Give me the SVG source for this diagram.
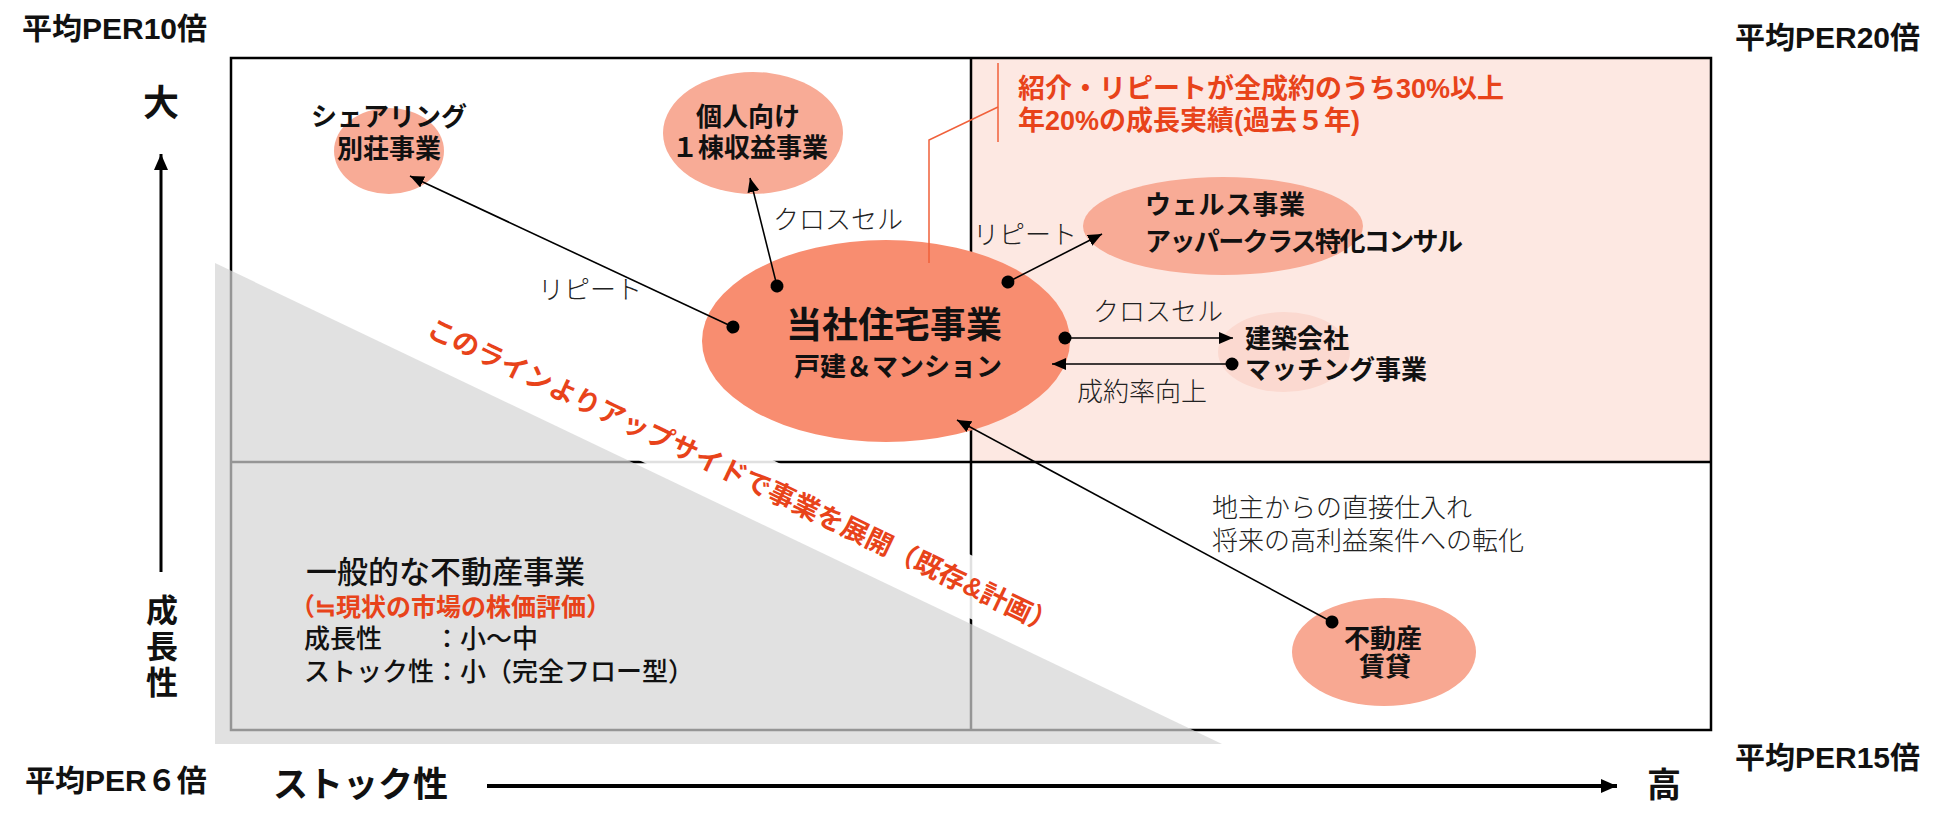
<svg xmlns="http://www.w3.org/2000/svg" width="1950" height="830" viewBox="0 0 1950 830">
<defs>
<style>
text{font-family:"Liberation Sans","Noto Sans CJK JP",sans-serif;fill:#111}
.b{font-weight:700}
.m{font-weight:500}
.red{fill:#E8431A}
.per{font-size:30px;font-weight:700}
.node{font-size:26px;font-weight:700}
.lab{font-size:26px;font-weight:300;fill:#222}
.conn{stroke:#000;stroke-width:1.6;fill:none;marker-start:url(#dot);marker-end:url(#ah)}
</style>
<marker id="ah" markerUnits="userSpaceOnUse" markerWidth="14" markerHeight="12" refX="14" refY="6" orient="auto"><path d="M0,0 L14,6 L0,12 z" fill="#000"/></marker>
<marker id="dot" markerUnits="userSpaceOnUse" markerWidth="14" markerHeight="14" refX="7" refY="7" orient="auto"><circle cx="7" cy="7" r="6.5" fill="#000"/></marker>
<marker id="axh" markerUnits="userSpaceOnUse" markerWidth="16" markerHeight="16" refX="16" refY="8" orient="auto"><path d="M0,1 L16,8 L0,15 z" fill="#000"/></marker>
</defs>
<rect width="1950" height="830" fill="#fff"/>

<g id="quadrants">
<rect x="971" y="58" width="740" height="404" fill="#FDE8E2"/>
<rect x="231" y="58" width="1480" height="672" fill="none" stroke="#000" stroke-width="2.5"/>
<line x1="971" y1="58" x2="971" y2="730" stroke="#000" stroke-width="2.5"/>
<line x1="231" y1="462" x2="1711" y2="462" stroke="#000" stroke-width="2.5"/>
</g>

<g id="general-zone">
<polygon points="215,263 215,744 1222,744" fill="#D4D4D4" fill-opacity="0.7"/>
<polygon points="417,354 1082,672 1107,620 442,302" fill="#fff" fill-opacity="0.88"/>
<text transform="translate(742,477) rotate(25.6)" x="0" y="9" text-anchor="middle" class="b red" font-size="27">このラインよりアップサイドで事業を展開（既存&amp;計画）</text>
</g>

<g id="axes">
<line x1="161" y1="572" x2="161" y2="154" stroke="#000" stroke-width="3" marker-end="url(#axh)"/>
<line x1="487" y1="786" x2="1617" y2="786" stroke="#000" stroke-width="4" marker-end="url(#axh)"/>
<text x="161" y="116" text-anchor="middle" class="b" font-size="36">大</text>
<text x="162" y="622" text-anchor="middle" class="b" font-size="32">成</text>
<text x="162" y="658" text-anchor="middle" class="b" font-size="32">長</text>
<text x="162" y="694" text-anchor="middle" class="b" font-size="32">性</text>
<text x="273" y="797" class="b" font-size="35">ストック性</text>
<text x="1664" y="797" text-anchor="middle" class="b" font-size="34">高</text>
<text x="22" y="39" class="per">平均PER10倍</text>
<text x="1735" y="48" class="per">平均PER20倍</text>
<text x="25" y="791" class="per">平均PER６倍</text>
<text x="1735" y="768" class="per">平均PER15倍</text>
</g>

<g id="general-text">
<text x="306" y="583" class="m" font-size="31">一般的な不動産事業</text>
<text x="290" y="616" class="b red" font-size="25">（≒現状の市場の株価評価）</text>
<text x="304" y="648" class="m" font-size="26">成長性　　：小～中</text>
<text x="304" y="681" class="m" font-size="26">ストック性：小（完全フロー型）</text>
</g>

<g id="node-sharing">
<ellipse cx="389" cy="151" rx="55" ry="43" fill="#F8AB96"/>
<text x="389" y="126" text-anchor="middle" class="node">シェアリング</text>
<text x="389" y="158" text-anchor="middle" class="node">別荘事業</text>
</g>

<g id="node-individual">
<ellipse cx="753" cy="133" rx="90" ry="61" fill="#F8AB96"/>
<text x="748" y="126" text-anchor="middle" class="node">個人向け</text>
<text x="750" y="157" text-anchor="middle" class="node">１棟収益事業</text>
</g>

<g id="node-wealth">
<ellipse cx="1223" cy="226" rx="140" ry="49" fill="#F8AB96"/>
<text x="1145" y="214" class="node" textLength="160">ウェルス事業</text>
<text x="1145" y="251" class="node" font-size="25" textLength="318">アッパークラス特化コンサル</text>
</g>

<g id="node-matching">
<ellipse cx="1284" cy="352" rx="66" ry="40" fill="#FBD9D0"/>
<text x="1245" y="348" class="node" font-size="27">建築会社</text>
<text x="1245" y="379" class="node" font-size="27">マッチング事業</text>
</g>

<g id="node-rental">
<ellipse cx="1384" cy="652" rx="92" ry="54" fill="#F8A892"/>
<text x="1383" y="648" text-anchor="middle" class="node" font-size="27">不動産</text>
<text x="1385" y="676" text-anchor="middle" class="node" font-size="25">賃貸</text>
</g>

<g id="node-main">
<ellipse cx="886" cy="341" rx="184" ry="101" fill="#F88D70"/>
<text x="894" y="338" text-anchor="middle" class="b" font-size="36">当社住宅事業</text>
<text x="898" y="376" text-anchor="middle" class="b" font-size="26">戸建＆マンション</text>
</g>

<g id="callout">
<polyline points="929,263 929,140 998,107" fill="none" stroke="#F0603A" stroke-width="1.5"/>
<line x1="998" y1="63" x2="998" y2="142" stroke="#F0603A" stroke-width="1.5"/>
<text x="1018" y="98" class="b red" font-size="27">紹介・リピートが全成約のうち30%以上</text>
<text x="1018" y="130" class="b red" font-size="27">年20%の成長実績(過去５年)</text>
</g>

<g id="connectors">
<line class="conn" x1="733" y1="327" x2="410" y2="176"/>
<line class="conn" x1="777" y1="286" x2="750" y2="178"/>
<line class="conn" x1="1008" y1="282" x2="1102" y2="234"/>
<line class="conn" x1="1065" y1="338" x2="1233" y2="338"/>
<line class="conn" x1="1232" y1="364" x2="1052" y2="364"/>
<line class="conn" x1="1332" y1="622" x2="957" y2="420"/>
<text x="538" y="299" class="lab">リピート</text>
<text x="773" y="229" class="lab">クロスセル</text>
<text x="973" y="244" class="lab" font-size="25">リピート</text>
<text x="1093" y="321" class="lab">クロスセル</text>
<text x="1077" y="401" class="lab">成約率向上</text>
<text x="1212" y="517" class="lab" font-size="27">地主からの直接仕入れ</text>
<text x="1212" y="550" class="lab" font-size="27">将来の高利益案件への転化</text>
</g>
</svg>
